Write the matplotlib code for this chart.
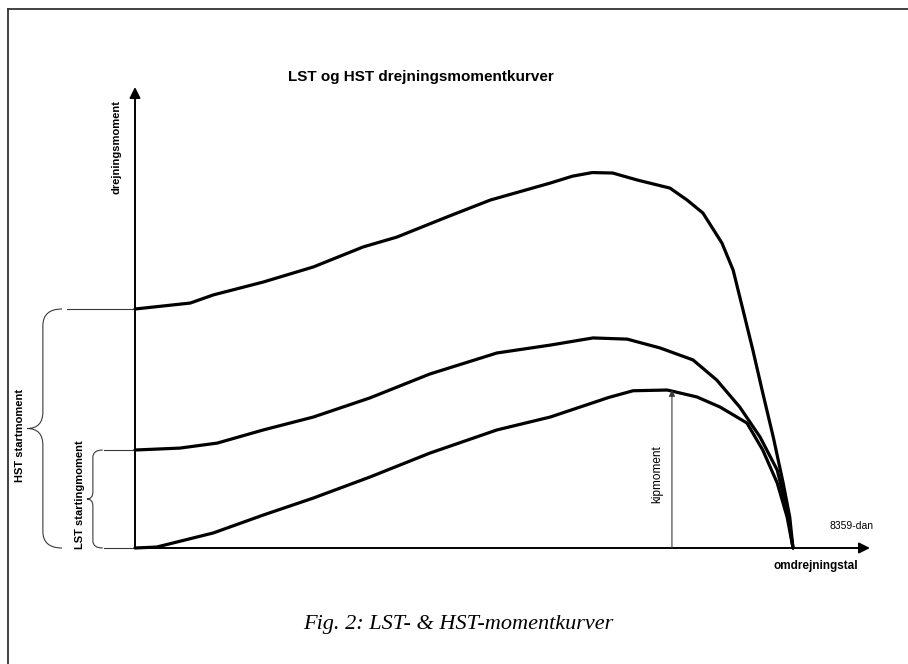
"""LST og HST drejningsmomentkurver – skitse af momentkurver for motor."""

import matplotlib

matplotlib.use("Agg")
import matplotlib.pyplot as plt
from matplotlib.lines import Line2D
from matplotlib.path import Path
from matplotlib.patches import PathPatch


plt.rcParams["font.family"] = ["Liberation Sans", "DejaVu Sans"]

# omdrejningstal i % af synkront omdrejningstal, moment i % af HST startmoment
HST_SPEED = [0, 8.4, 11.9, 19.5, 27.1, 34.7, 39.8, 47.4, 54.0, 63.1, 66.5, 69.5,
             72.6, 76.3, 81.3, 83.9, 86.3, 89.2, 90.9, 92.4, 93.9, 95.4, 97.0,
             98.5, 99.5, 100]
HST_TORQUE = [100, 102.5, 105.9, 111.3, 117.6, 126.0, 130.1, 138.5, 145.6, 152.7,
              155.6, 157.1, 156.9, 154.0, 150.6, 145.6, 140.2, 127.6, 116.3, 99.6,
              82.8, 64.9, 46.4, 27.2, 13.0, 0]

MID_SPEED = [0, 6.8, 12.5, 19.5, 27.1, 35.7, 44.8, 55.0, 63.1, 69.6, 74.8, 79.8,
             84.8, 88.4, 91.9, 95.0, 97.6, 99.1, 100]
MID_TORQUE = [41.0, 41.8, 43.9, 49.4, 54.8, 62.8, 72.8, 81.6, 84.9, 87.9, 87.4,
              83.7, 78.7, 70.3, 59.0, 46.4, 32.6, 15.9, 0]

LST_SPEED = [0, 3.3, 11.9, 19.5, 27.1, 35.7, 44.8, 55.0, 63.1, 72.0, 75.7, 80.9,
             85.4, 88.9, 93.0, 95.4, 97.6, 99.1, 100]
LST_TORQUE = [0, 0.4, 6.3, 13.8, 20.9, 29.7, 39.7, 49.4, 54.8, 63.0, 65.8, 66.1,
              63.2, 59.0, 52.3, 41.0, 27.2, 13.0, 0]

HST_START = 100
LST_START = 41
KIP_SPEED = 81.6
KIP_TORQUE = 66.1

X_MAX = 111.7
Y_MAX = 192.9

W, H = 908, 664
THIN = "#3a3a3a"


def fx(px):
    return px / W


def fy(py):
    return 1 - py / H


def brace(axis, x0, x_tip, x_end, y_bot, y_top, r):
    """Krøllet parentes der peger mod venstre, i datakoordinater."""
    y_mid = (y_bot + y_top) / 2
    verts = [
        (x_end, y_top), (x0, y_top), (x0, y_top - r),
        (x0, y_mid + r),
        (x0, y_mid), (x_tip, y_mid),
        (x0, y_mid), (x0, y_mid - r),
        (x0, y_bot + r),
        (x0, y_bot), (x_end, y_bot),
    ]
    codes = [Path.MOVETO, Path.CURVE3, Path.CURVE3, Path.LINETO,
             Path.CURVE3, Path.CURVE3,
             Path.CURVE3, Path.CURVE3, Path.LINETO,
             Path.CURVE3, Path.CURVE3]
    axis.add_patch(PathPatch(Path(verts, codes), facecolor="none",
                             edgecolor=THIN, linewidth=0.8, clip_on=False))


fig = plt.figure(figsize=(W / 100, H / 100), dpi=100)

# ramme
fig.add_artist(Line2D([fx(8), fx(8)], [fy(9), 0], color="#333333", lw=1.3))
fig.add_artist(Line2D([fx(8), 1], [fy(9), fy(9)], color="#333333", lw=1.3))

ax = fig.add_axes([fx(135), fy(548), fx(870) - fx(135), fy(87) - fy(548)])
ax.set_xlim(0, X_MAX)
ax.set_ylim(0, Y_MAX)
ax.axis("off")

# akser med pile
arrow = dict(arrowstyle="-|>", lw=1.4, color="black", mutation_scale=16,
             shrinkA=0, shrinkB=0)
ax.annotate("", xy=(X_MAX, 0), xytext=(0, 0), arrowprops=arrow,
            annotation_clip=False)
ax.annotate("", xy=(0, Y_MAX), xytext=(0, 0), arrowprops=arrow,
            annotation_clip=False)

for speed, torque in ((HST_SPEED, HST_TORQUE), (MID_SPEED, MID_TORQUE),
                      (LST_SPEED, LST_TORQUE)):
    ax.plot(speed, torque, color="black", lw=2.3, solid_joinstyle="round",
            solid_capstyle="round", clip_on=False)

# kipmoment
ax.annotate("", xy=(KIP_SPEED, KIP_TORQUE), xytext=(KIP_SPEED, 0),
            arrowprops=dict(arrowstyle="-|>", lw=0.8, color=THIN,
                            mutation_scale=9, shrinkA=0, shrinkB=0))
ax.text(KIP_SPEED - 2.2, KIP_TORQUE / 2 - 2, "kipmoment", rotation=90,
        ha="center", va="center", fontsize=8.5)

# startmomenter med klammer
ax.plot([-10.3, 0], [HST_START, HST_START], color=THIN, lw=0.8, clip_on=False)
ax.plot([-4.7, 0], [LST_START, LST_START], color=THIN, lw=0.8, clip_on=False)
ax.plot([-4.7, 0], [0, 0], color=THIN, lw=0.8, clip_on=False)
brace(ax, -14.0, -16.4, -11.1, 0, HST_START, 7.0)
brace(ax, -6.4, -7.3, -4.9, 0, LST_START, 3.0)

fig.text(fx(20), fy(435), "HST startmoment", rotation=90, ha="center",
         va="center", fontsize=8, fontweight="bold")
fig.text(fx(80), fy(495), "LST startingmoment", rotation=90, ha="center",
         va="center", fontsize=8, fontweight="bold")
fig.text(fx(116), fy(100), "drejningsmoment", rotation=90, ha="center",
         va="top", fontsize=8, fontweight="bold")
fig.text(fx(421), fy(77), "LST og HST drejningsmomentkurver", ha="center",
         va="center", fontsize=11, fontweight="bold")
fig.text(fx(816), fy(566), "omdrejningstal", ha="center", va="center",
         fontsize=8.5, fontweight="bold")
fig.text(fx(852), fy(526), "8359-dan", ha="center", va="center", fontsize=7.5)
fig.text(fx(458), fy(624), "Fig. 2: LST- & HST-momentkurver", ha="center",
         va="center", fontsize=16, style="italic",
         family=["Liberation Serif", "DejaVu Serif"])

fig.savefig("out.png", dpi=100)
